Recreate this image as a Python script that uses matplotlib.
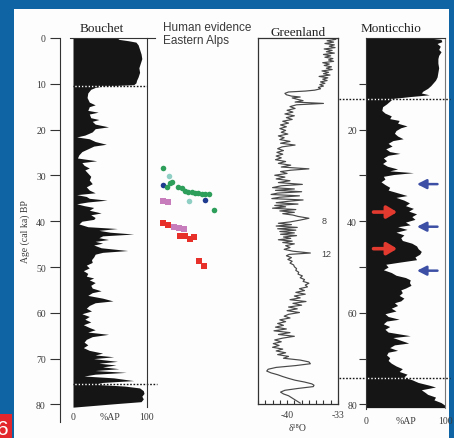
import matplotlib
matplotlib.use('Agg')
import matplotlib.pyplot as plt
from matplotlib.patches import Rectangle

plt.rcParams['font.family'] = ['Liberation Serif', 'DejaVu Serif']

# ---------------- data ----------------
bouchet_age = [0.0, 0.3, 0.6, 0.9, 1.5, 2.5, 3.5, 4.5, 5.5, 6.5, 7.5, 8.5, 9.2, 9.8, 10.2, 10.5,
               10.8, 11.2, 12.0, 13.0, 14.0, 14.6, 15.0, 15.8, 16.2, 16.6, 17.4, 17.8, 18.2, 18.8,
               19.4, 19.8, 20.5, 21.2, 21.6, 22.0, 22.6, 23.2, 23.6, 24.2, 24.8, 25.5, 26.2, 26.8,
               27.2, 27.8, 28.4, 28.8, 29.5, 30.2, 31.0, 31.8, 32.5, 33.2, 33.8, 34.2, 34.6, 35.0,
               35.4, 35.8, 36.2, 36.6, 37.0, 37.6, 38.2, 38.6, 39.2, 39.6, 40.0, 40.6, 41.2, 41.6,
               42.0, 42.4, 42.8, 43.2, 43.6, 44.0, 44.4, 44.8, 45.2, 45.8, 46.4, 46.8, 47.2, 47.8,
               48.4, 49.0, 49.6, 50.2, 50.8, 51.4, 52.0, 52.4, 52.8, 53.4, 54.0, 54.6, 55.2, 55.6,
               56.2, 56.8, 57.4, 57.8, 58.4, 59.0, 59.6, 60.2, 60.8, 61.4, 62.0, 62.6, 63.2, 63.7,
               64.2, 64.7, 65.2, 65.8, 66.4, 67.0, 67.6, 68.2, 68.8, 69.2, 69.6, 70.0, 70.6, 71.0,
               71.4, 71.8, 72.2, 72.6, 73.0, 73.4, 73.8, 74.2, 74.8, 75.2, 75.6, 76.0, 76.4, 77.0,
               77.6, 78.2, 78.8, 79.4, 79.8, 80.2, 80.6]
bouchet_ap = [60, 62, 75, 85, 88, 90, 92, 93, 91, 89, 90, 88, 86, 85, 82, 40,
              30, 24, 20, 19, 22, 30, 22, 20, 34, 22, 24, 35, 26, 30,
              48, 30, 26, 16, 5, 22, 30, 45, 28, 20, 12, 8, 6, 32,
              12, 15, 22, 16, 20, 24, 22, 26, 18, 22, 30, 5, 18, 22,
              46, 20, 5, 15, 28, 22, 38, 24, 30, 28, 12, 8, 20, 60,
              35, 50, 82, 40, 35, 48, 30, 40, 28, 38, 74, 40, 30, 28,
              25, 26, 18, 22, 14, 20, 18, 28, 22, 30, 24, 26, 38, 26,
              20, 40, 54, 30, 22, 18, 25, 12, 22, 16, 24, 14, 22, 30,
              20, 48, 26, 18, 15, 20, 14, 22, 40, 30, 55, 28, 60, 35,
              58, 40, 62, 30, 72, 30, 15, 55, 82, 40, 30, 70, 90, 95,
              96, 93, 95, 92, 60, 30, 0]

greenland_age = [0.0, 0.3, 0.6, 0.9, 1.2, 1.5, 1.8, 2.1, 2.4, 2.7, 3.0, 3.3, 3.6, 3.9, 4.2, 4.5,
                 4.8, 5.1, 5.4, 5.7, 6.0, 6.3, 6.6, 6.9, 7.2, 7.5, 7.8, 8.1, 8.4, 8.7, 9.0, 9.3,
                 9.6, 9.9, 10.2, 10.5, 10.8, 11.1, 11.4, 11.6, 11.8, 12.1, 12.4, 12.7, 12.9, 13.1,
                 13.4, 13.7, 14.0, 14.3, 14.6, 15.0, 15.4, 15.8, 16.2, 16.6, 17.0, 17.4, 17.8, 18.2,
                 18.6, 19.0, 19.4, 19.8, 20.2, 20.6, 21.0, 21.4, 21.8, 22.2, 22.6, 23.0, 23.4, 23.8,
                 24.2, 24.6, 25.0, 25.4, 25.8, 26.2, 26.6, 27.0, 27.4, 27.8, 28.2, 28.6, 28.9, 29.2,
                 29.6, 30.0, 30.4, 30.8, 31.2, 31.6, 32.0, 32.3, 32.7, 33.0, 33.3, 33.6, 33.9, 34.2,
                 34.5, 34.8, 35.1, 35.4, 35.7, 36.0, 36.3, 36.6, 36.9, 37.2, 37.5, 37.8, 38.1, 38.4,
                 38.7, 39.0, 39.4, 39.8, 40.2, 40.5, 40.8, 41.1, 41.4, 41.7, 42.0, 42.3, 42.6, 42.9,
                 43.2, 43.5, 43.8, 44.1, 44.4, 44.7, 45.0, 45.4, 45.8, 46.2, 46.6, 47.0, 47.3, 47.6,
                 48.0, 48.4, 48.8, 49.2, 49.6, 50.0, 50.4, 50.8, 51.2, 51.6, 52.0, 52.4, 52.8, 53.2,
                 53.6, 54.0, 54.4, 54.8, 55.2, 55.6, 56.0, 56.4, 56.8, 57.2, 57.6, 58.0, 58.4, 58.8,
                 59.2, 59.6, 60.0, 60.4, 60.8, 61.2, 61.6, 62.0, 62.4, 62.8, 63.2, 63.6, 64.0, 64.4,
                 64.8, 65.2, 65.6, 66.0, 66.4, 66.8, 67.2, 67.6, 68.0, 68.4, 68.8, 69.2, 69.6, 70.0,
                 70.4, 70.8, 71.2, 71.6, 72.0, 72.4, 72.8, 73.2, 73.6, 74.0, 74.4, 74.8, 75.2, 75.6,
                 75.9, 76.2, 76.6, 77.0, 77.4, 77.8, 78.2, 78.6, 79.0, 79.4, 79.8]
greenland_d18o = [-34.0, -33.3, -34.5, -33.6, -34.8, -33.5, -34.2, -33.4, -34.9, -33.8, -34.6, -33.5,
                  -35.0, -34.0, -34.8, -33.7, -34.3, -33.6, -35.1, -34.2, -34.9, -33.9, -34.6, -33.8,
                  -35.2, -34.3, -35.0, -34.1, -35.6, -34.4, -35.1, -34.5, -35.4, -34.8, -35.5, -35.0,
                  -35.7, -35.4, -36.2, -37.5, -39.8, -40.3, -40.1, -39.4, -38.2, -39.3, -38.6, -37.8,
                  -38.9, -35.0, -38.7, -39.6, -38.9, -40.0, -39.2, -40.3, -39.0, -40.1, -39.3, -40.6,
                  -39.8, -40.9, -40.1, -41.0, -40.2, -40.8, -39.9, -41.2, -40.4, -41.0, -39.6, -40.9,
                  -38.9, -40.7, -41.3, -40.5, -41.4, -40.6, -41.5, -40.8, -41.6, -40.2, -41.2, -39.5,
                  -40.8, -37.0, -39.5, -40.9, -40.0, -41.7, -40.3, -41.5, -39.6, -41.2, -37.9, -40.8,
                  -42.0, -39.0, -41.6, -38.0, -41.3, -42.2, -38.3, -41.0, -42.1, -37.8, -39.9, -41.5,
                  -38.5, -41.7, -40.2, -42.0, -38.8, -41.0, -39.0, -40.6, -39.2, -38.5, -37.0, -38.2,
                  -39.6, -41.2, -39.4, -41.5, -38.6, -41.3, -38.8, -41.0, -39.0, -40.9, -38.7, -40.5,
                  -39.5, -41.2, -39.3, -40.6, -39.0, -40.2, -39.6, -40.4, -39.2, -36.8, -39.7, -40.1,
                  -39.4, -39.9, -39.3, -39.6, -39.1, -39.0, -38.7, -38.8, -38.4, -38.5, -37.9, -38.2,
                  -37.6, -37.8, -37.0, -37.5, -37.2, -38.3, -37.6, -38.8, -37.5, -39.0, -38.2, -39.6,
                  -37.4, -39.2, -38.0, -39.8, -38.6, -40.0, -38.3, -39.8, -40.4, -39.6, -41.0, -40.2,
                  -41.3, -40.5, -41.6, -40.1, -41.8, -39.6, -41.2, -39.0, -40.6, -41.7, -40.8, -41.9,
                  -41.1, -42.0, -40.6, -41.5, -40.2, -41.3, -39.8, -40.5, -38.2, -37.0, -36.8, -38.8,
                  -41.5, -42.6, -42.8, -42.2, -41.3, -40.6, -39.8, -38.9, -37.6, -36.6, -36.3, -36.4,
                  -38.5, -40.3, -40.9, -40.5, -39.8, -39.4, -39.0, -38.6, -38.2]

monticchio_age = [0.0, 0.3, 0.8, 1.2, 1.8, 2.5, 3.0, 3.8, 4.5, 5.5, 6.5, 7.5, 8.5, 9.2, 9.8, 10.4,
                  11.0, 11.6, 12.0, 12.4, 12.8, 13.2, 13.8, 14.4, 15.0, 15.8, 16.4, 17.0, 17.6, 18.0,
                  18.6, 19.2, 19.6, 20.2, 20.8, 21.4, 22.0, 22.4, 23.0, 23.6, 24.2, 24.8, 25.2, 25.6,
                  26.2, 26.8, 27.4, 28.0, 28.6, 29.0, 29.4, 29.8, 30.2, 30.8, 31.4, 32.0, 32.6, 33.2,
                  33.8, 34.4, 34.8, 35.4, 36.0, 36.6, 37.2, 37.8, 38.4, 39.0, 39.6, 40.2, 40.8, 41.2,
                  41.8, 42.4, 43.0, 43.6, 44.2, 44.8, 45.4, 46.0, 46.6, 47.2, 47.8, 48.4, 49.0, 49.4,
                  50.0, 50.6, 51.2, 51.8, 52.3, 52.8, 53.4, 54.0, 54.6, 55.0, 55.6, 56.2, 56.8, 57.4,
                  57.8, 58.4, 59.0, 59.6, 60.2, 60.8, 61.4, 61.8, 62.4, 63.0, 63.6, 64.2, 65.0, 65.4,
                  66.0, 66.6, 67.0, 67.6, 68.2, 68.6, 69.2, 69.8, 70.4, 71.0, 71.6, 72.2, 72.8, 73.4,
                  74.0, 74.6, 75.2, 75.8, 76.2, 76.8, 77.4, 77.8, 78.4, 79.0, 79.6, 80.2, 80.7]
monticchio_ap = [80, 95, 96, 90, 94, 92, 95, 92, 91, 91, 92, 91, 90, 88, 85, 82,
                 78, 72, 70, 80, 55, 34, 30, 26, 21, 20, 24, 32, 30, 42,
                 40, 52, 44, 38, 36, 40, 47, 34, 28, 33, 25, 30, 43, 28,
                 22, 26, 21, 27, 40, 30, 60, 35, 22, 24, 19, 24, 30, 28,
                 40, 52, 38, 48, 55, 50, 60, 54, 64, 58, 62, 50, 56, 40,
                 52, 38, 48, 44, 46, 58, 64, 66, 70, 68, 62, 64, 40, 25,
                 28, 22, 32, 38, 50, 56, 55, 57, 50, 44, 46, 42, 48, 44,
                 36, 40, 32, 38, 24, 28, 42, 26, 22, 30, 24, 28, 56, 34,
                 44, 54, 36, 30, 40, 28, 26, 30, 28, 32, 38, 46, 42, 52,
                 48, 58, 66, 80, 88, 70, 75, 78, 88, 86, 95, 100, 100]

# human evidence (x = position within column, age ka)
green_x = [8.3, 16.7, 15.0, 23.3, 26.7, 30.0, 33.3, 36.7, 40.0, 43.3, 46.7, 50.0, 54.3, 11.7, 59.3]
green_age = [28.4, 31.4, 31.7, 32.6, 32.8, 33.3, 33.6, 33.7, 33.8, 33.9, 34.0, 34.0, 34.1, 32.6, 37.5]
cyan_x = [14.3, 34.3]
cyan_age = [30.1, 35.6]
navy_x = [8.3, 50.0]
navy_age = [32.2, 35.3]
pink_x = [8.3, 13.3, 19.0, 24.0, 29.0]
pink_age = [35.5, 35.7, 41.3, 41.5, 41.7]
red_x = [8.3, 13.3, 25.0, 30.0, 35.0, 39.3, 44.3, 49.0]
red_age = [40.4, 40.8, 43.2, 43.3, 43.9, 43.5, 48.6, 49.7]

bouchet_dotted = [10.5, 75.5]
monticchio_dotted = [13.3, 74.3]
blue_arrow_age = [31.9, 41.2, 50.8]
red_arrow_age = [38.0, 46.0]
greenland_events = [('8', 39.8), ('12', 47.0)]

# ---------------- layout ----------------
W, H = 454, 439
fig = plt.figure(figsize=(W / 100, H / 100), dpi=100, facecolor='#0f65a3')


def rect(x0, y0, x1, y1):
    return [x0 / W, 1 - y1 / H, (x1 - x0) / W, (y1 - y0) / H]


fig.patches.append(Rectangle((14 / W, 0), (449 - 14) / W, 1 - 10 / H, transform=fig.transFigure,
                             facecolor='#fdfdfd', edgecolor='none', zorder=-10))

# red label box
axR = fig.add_axes(rect(0, 415, 12, 439))
axR.set_facecolor('#e3262b')
axR.set_xticks([]); axR.set_yticks([])
for s in axR.spines.values():
    s.set_visible(False)
axR.text(0.2, 0.38, '6', color='white', fontsize=15, ha='center', va='center',
         family='Liberation Sans', transform=axR.transAxes, clip_on=True)

INK = '#151515'
SP = '#333333'
TICKC = '#3a3a3a'

# ---- Bouchet ----
axB = fig.add_axes(rect(73, 39, 147, 410))
axB.set_facecolor('none')
axB.fill_betweenx(bouchet_age, 0, bouchet_ap, color=INK, lw=0)
axB.set_xlim(0, 100); axB.set_ylim(81, 0)
axB.spines['top'].set_visible(False)
axB.spines['bottom'].set_visible(False)
axB.spines['left'].set_position(('outward', 9.4))
axB.spines['left'].set_bounds(0, 83.8)
axB.spines['right'].set_bounds(0, 80.6)
for s in ['left', 'right']:
    axB.spines[s].set_color(SP); axB.spines[s].set_linewidth(0.8)
axB.set_yticks(range(0, 81, 10))
axB.tick_params(axis='y', direction='out', length=7, width=0.8, pad=3.2, labelsize=7,
                colors=SP, labelcolor=TICKC)
axB.set_xticks([0, 50, 100], ['0', '%AP', '100'])
axB.tick_params(axis='x', length=0, pad=2.5, labelsize=7, labelcolor=TICKC)
axB.plot([-0.04, 1.11], [1, 1], transform=axB.transAxes, clip_on=False, color=SP, lw=0.8)
axB.text(0.39, 1.012, 'Bouchet', transform=axB.transAxes, ha='center', va='bottom',
         fontsize=9.5, color='#222')
axB.plot([0, 100], [bouchet_dotted[0]] * 2, color=INK, lw=1.0, ls=(0, (1.2, 1.2)),
         gapcolor='white', clip_on=False)
axB.plot([0, 113], [bouchet_dotted[1]] * 2, color=INK, lw=1.0, ls=(0, (1.2, 1.2)),
         gapcolor='white', clip_on=False)

fig.text(25 / W, 1 - 232 / H, 'Age (cal ka) BP', rotation=90, ha='center', va='center',
         fontsize=7, color=TICKC)

# ---- Human evidence ----
axH = fig.add_axes(rect(155, 39, 225, 410))
axH.axis('off')
axH.set_xlim(0, 70); axH.set_ylim(81, 0)
ms = 16
axH.scatter(pink_x, pink_age, marker='s', s=ms, color='#c77dbb', lw=0, zorder=2)
axH.scatter(red_x, red_age, marker='s', s=ms, color='#e8302a', lw=0, zorder=2)
axH.scatter(cyan_x, cyan_age, s=ms, color='#8fcfc4', lw=0, zorder=2)
axH.scatter(navy_x, navy_age, s=ms, color='#1f3b8f', lw=0, zorder=3)
axH.scatter(green_x, green_age, s=ms, color='#2e9e5b', lw=0, zorder=4)
fig.text(163 / W, 1 - 28 / H, 'Human evidence', ha='left', va='center', fontsize=8.5,
         family='Liberation Sans', color='#3a3a3a')
fig.text(163 / W, 1 - 41 / H, 'Eastern Alps', ha='left', va='center', fontsize=8.5,
         family='Liberation Sans', color='#3a3a3a')

# ---- Greenland ----
axG = fig.add_axes(rect(258, 39, 338, 405))
axG.set_facecolor('none')
axG.plot(greenland_d18o, greenland_age, color='#484848', lw=0.85)
axG.set_xlim(-44, -33); axG.set_ylim(80, 0)
for s in axG.spines.values():
    s.set_color(SP); s.set_linewidth(0.9)
axG.set_yticks([])
axG.set_xticks([-40, -33], ['-40', '-33'])
axG.set_xticks(range(-44, -32), minor=True)
axG.tick_params(axis='x', which='both', direction='in', length=3.2, width=0.8, pad=4,
                labelsize=7, colors=SP, labelcolor=TICKC)
axG.set_xlabel('δ¹⁸O', fontsize=7, labelpad=3, color=TICKC)
axG.set_title('Greenland', fontsize=9.5, pad=2.5, color='#222')
for lab, a in greenland_events:
    axG.text(-35.3, a, lab, fontsize=6.5, family='Liberation Sans', color='#444',
             ha='left', va='center')

# ---- Monticchio ----
axM = fig.add_axes(rect(366, 39, 445, 410))
axM.set_facecolor('none')
axM.fill_betweenx(monticchio_age, 0, monticchio_ap, color=INK, lw=0)
axM.set_xlim(0, 100); axM.set_ylim(81, 0)
axM.spines['bottom'].set_visible(False)
axM.spines['left'].set_bounds(0, 81)
axM.spines['right'].set_bounds(0, 80.7)
for s in ['left', 'right', 'top']:
    axM.spines[s].set_color(SP); axM.spines[s].set_linewidth(0.8)
axM.spines['right'].set_color('#777')
axM.set_yticks([20, 40, 60, 80])
axM.set_yticks([10, 30, 50, 70], minor=True)
axM.tick_params(axis='y', which='both', direction='out', length=5, width=0.8, pad=1.5,
                labelsize=7, colors=SP, labelcolor=TICKC)
axM.set_xticks([0, 50, 100], ['0', '%AP', '100'])
axM.tick_params(axis='x', length=0, pad=5, labelsize=7, labelcolor=TICKC)
axM.text(0.32, 1.012, 'Monticchio', transform=axM.transAxes, ha='center', va='bottom',
         fontsize=9.5, color='#222')
for a in monticchio_dotted:
    axM.plot([-34, 106], [a, a], color=INK, lw=1.0, ls=(0, (1.2, 1.2)),
             gapcolor='white', clip_on=False)
for a in blue_arrow_age:
    axM.annotate('', xy=(61, a), xytext=(94, a),
                 arrowprops=dict(arrowstyle='-|>,head_length=0.55,head_width=0.28',
                                 color='#3c4fa5', lw=1.8))
for a in red_arrow_age:
    axM.annotate('', xy=(43, a), xytext=(6, a),
                 arrowprops=dict(arrowstyle='-|>,head_length=0.6,head_width=0.36',
                                 color='#e23a2f', lw=2.6))

fig.savefig('out.png', dpi=100, facecolor=fig.get_facecolor())
